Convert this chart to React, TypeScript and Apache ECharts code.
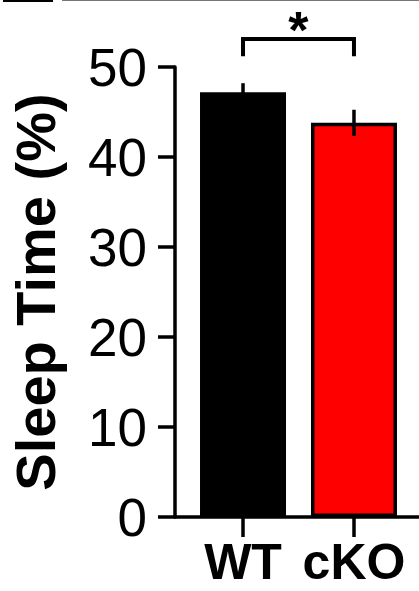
import React, { useEffect, useRef } from "react";
import * as echarts from "echarts";

const categories = ["WT", "cKO"];
const categoryPositions = [1, 2];
const meanValues = [47.2, 43.8];
const errorValues = [1.0, 1.45];
const barColors = ["#000000", "#ff0000"];
const yTicks = [0, 10, 20, 30, 40, 50];
// significance bracket: [x1, x2, top value, leg bottom value, star value, label]
const significance = [[1, 2, 53.1, 51.2, 57.0, "*"]];

const FONT = "'Liberation Sans', Arial, Helvetica, sans-serif";

export default function App() {
  const ref = useRef<HTMLDivElement>(null);
  useEffect(() => {
    if (!ref.current) return;
    const chart = echarts.init(ref.current, null, { renderer: "svg" });
    const barData = meanValues.map((v, i) => ({
      value: [categoryPositions[i], v],
      itemStyle: { color: barColors[i], borderColor: "#000", borderWidth: 3.5 },
    }));
    const errData = meanValues.map((v, i) => [categoryPositions[i], v, errorValues[i]]);
    chart.setOption({
      animation: false,
      backgroundColor: "#ffffff",
      grid: { left: 175, right: 0, top: 67, bottom: 74, containLabel: false, outerBoundsMode: "none" },
      graphic: [
        { type: "rect", left: 3, top: 0, shape: { width: 50, height: 2 }, style: { fill: "#000" } },
        { type: "rect", left: 62, top: 0, shape: { width: 357, height: 1 }, style: { fill: "#777" } },
      ],
      xAxis: {
        type: "value",
        min: 0.387,
        max: 2.586,
        splitLine: { show: false },
        axisLine: { show: true, onZero: false, lineStyle: { color: "#000", width: 3.5 } },
        axisTick: { show: true, customValues: categoryPositions, length: 20, lineStyle: { color: "#000", width: 3.5 } },
        axisLabel: {
          customValues: categoryPositions,
          formatter: (v: number) => categories[categoryPositions.indexOf(Math.round(v))] ?? "",
          color: "#000",
          fontSize: 50,
          fontWeight: "bold",
          fontFamily: FONT,
          margin: 20,
        },
      },
      yAxis: {
        type: "value",
        min: 0,
        max: 50,
        interval: 10,
        name: "Sleep Time (%)",
        nameLocation: "middle",
        nameGap: 112,
        nameTextStyle: { color: "#000", fontSize: 56, fontWeight: "bold", fontFamily: FONT },
        splitLine: { show: false },
        axisLine: { show: true, lineStyle: { color: "#000", width: 3.5 } },
        axisTick: { show: true, length: 17, lineStyle: { color: "#000", width: 3.5 } },
        axisLabel: {
          color: "#000",
          fontSize: 53,
          fontFamily: FONT,
          margin: 28,
          formatter: (v: number) => (yTicks.includes(v) ? String(v) : ""),
        },
      },
      series: [
        {
          type: "bar",
          data: barData,
          barWidth: 86,
          z: 2,
        },
        {
          type: "custom",
          data: errData,
          z: 5,
          clip: false,
          renderItem: (params: any, api: any) => {
            const x = api.value(0);
            const m = api.value(1);
            const e = api.value(2);
            const top = api.coord([x, m + e]);
            const bot = api.coord([x, m - e]);
            return {
              type: "line",
              shape: { x1: top[0], y1: top[1], x2: bot[0], y2: bot[1] },
              style: { stroke: "#000", lineWidth: 3.5 },
            };
          },
        },
        {
          type: "custom",
          data: significance,
          z: 5,
          clip: false,
          renderItem: (params: any, api: any) => {
            const x1 = api.value(0);
            const x2 = api.value(1);
            const t = api.value(2);
            const b = api.value(3);
            const s = api.value(4);
            const p1 = api.coord([x1, b]);
            const p2 = api.coord([x1, t]);
            const p3 = api.coord([x2, t]);
            const p4 = api.coord([x2, b]);
            const ps = api.coord([(x1 + x2) / 2, s]);
            return {
              type: "group",
              children: [
                {
                  type: "polyline",
                  shape: { points: [p1, p2, p3, p4] },
                  style: { stroke: "#000", lineWidth: 4, fill: "none" },
                },
                {
                  type: "text",
                  x: ps[0],
                  y: ps[1],
                  style: {
                    text: String(significance[params.dataIndex][5]),
                    fill: "#000",
                    font: `bold 52px ${FONT}`,
                    align: "center",
                    verticalAlign: "top",
                  },
                },
              ],
            };
          },
        },
      ],
    });
    return () => chart.dispose();
  }, []);
  return (
    <div
      ref={ref}
      style={{ position: "fixed", left: 0, top: 0, width: 419, height: 591, background: "#fff" }}
    />
  );
}
